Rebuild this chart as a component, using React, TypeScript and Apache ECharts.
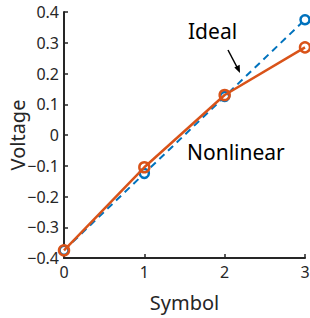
import React, { useEffect, useRef } from "react";
import * as echarts from "echarts";

const symbols = [0, 1, 2, 3];
const idealValues = [-0.375, -0.125, 0.125, 0.375];
const nonlinearValues = [-0.375, -0.105, 0.13, 0.285];
const xTicks = [0, 1, 2, 3];

const FONT = "'Noto Sans', sans-serif";

export default function App() {
  const ref = useRef<HTMLDivElement>(null);
  useEffect(() => {
    document.body.style.margin = "0";
    if (!ref.current) return;
    const chart = echarts.init(ref.current, null, { renderer: "svg" });
    const axisColor = "#262626";
    chart.setOption({
      animation: false,
      backgroundColor: "#ffffff",
      grid: { left: 64, right: 5, top: 12, bottom: 60, containLabel: false, outerBoundsMode: "none" },
      xAxis: {
        type: "value",
        min: xTicks[0],
        max: xTicks[xTicks.length - 1],
        interval: 1,
        name: "Symbol",
        nameLocation: "middle",
        nameGap: 34,
        nameMoveOverlap: false,
        nameTextStyle: { fontFamily: FONT, fontSize: 20, color: "#262626" },
        axisLine: { show: true, onZero: false, lineStyle: { color: axisColor, width: 2 } },
        axisTick: { show: true, inside: true, length: 4, lineStyle: { color: axisColor, width: 1.5 } },
        axisLabel: { fontFamily: FONT, fontSize: 16, color: "#262626", margin: 6 },
        splitLine: { show: false },
      },
      yAxis: {
        type: "value",
        min: -0.4,
        max: 0.4,
        interval: 0.1,
        name: "Voltage",
        nameLocation: "middle",
        nameGap: 37,
        nameMoveOverlap: false,
        nameTextStyle: { fontFamily: FONT, fontSize: 20, color: "#262626" },
        axisLine: { show: true, onZero: false, lineStyle: { color: axisColor, width: 2 } },
        axisTick: { show: true, inside: true, length: 4, lineStyle: { color: axisColor, width: 1.5 } },
        axisLabel: {
          fontFamily: FONT,
          fontSize: 16,
          color: "#262626",
          margin: 5,
          formatter: (v: number) => {
            const s = (Math.round(v * 10) / 10).toString();
            return s.replace("-", "\u2212");
          },
        },
        splitLine: { show: false },
      },
      series: [
        {
          name: "Ideal",
          type: "line",
          data: symbols.map((s, i) => [s, idealValues[i]]),
          symbol: "circle",
          symbolSize: 9,
          clip: false,
          lineStyle: { color: "#0072BD", width: 2, type: [7, 5] },
          itemStyle: { color: "#ffffff", borderColor: "#0072BD", borderWidth: 2.5 },
          z: 2,
        },
        {
          name: "Nonlinear",
          type: "line",
          data: symbols.map((s, i) => [s, nonlinearValues[i]]),
          symbol: "circle",
          symbolSize: 10,
          clip: false,
          lineStyle: { color: "#D95319", width: 2.5 },
          itemStyle: { color: "rgba(255,255,255,0)", borderColor: "#D95319", borderWidth: 2.5 },
          z: 3,
        },
      ],
      graphic: [
        {
          type: "text",
          left: 188,
          top: 20,
          style: { text: "Ideal", fontFamily: FONT, fontSize: 21, fill: "#000000" },
        },
        {
          type: "text",
          left: 187,
          top: 141,
          style: { text: "Nonlinear", fontFamily: FONT, fontSize: 21, fill: "#000000" },
        },
        {
          type: "line",
          shape: { x1: 228, y1: 50, x2: 238.5, y2: 70 },
          style: { stroke: "#000000", lineWidth: 1.5 },
        },
        {
          type: "polygon",
          shape: { points: [[240, 73], [234.3, 67.5], [239.7, 64.8]] },
          style: { fill: "#000000" },
        },
      ],
    });
    return () => chart.dispose();
  }, []);
  return <div ref={ref} style={{ width: 310, height: 318 }} />;
}
